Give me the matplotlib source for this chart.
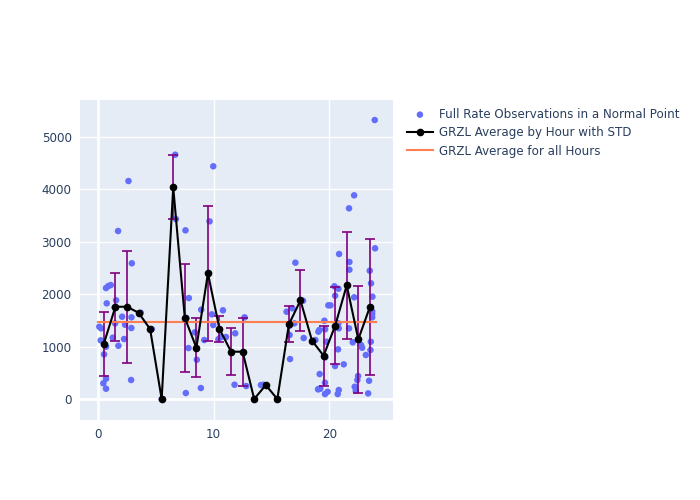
import numpy as np
import matplotlib
matplotlib.use("Agg")
import matplotlib.pyplot as plt
from matplotlib.ticker import MultipleLocator

# Hourly averages (plotted at hour + 0.5)
hours = np.arange(24) + 0.5
avg = [1055, 1761, 1761, 1647, 1336, 0, 4040, 1552, 980, 2398, 1336, 903,
       903, 0, 267, 0, 1425, 1883, 1113, 827, 1400, 2170, 1139, 1756]
std = [612, 650, 1070, np.nan, np.nan, np.nan, 610, 1030, 560, 1285, 255, 445,
       652, np.nan, np.nan, np.nan, 343, 585, np.nan, 570, 729, 1024, 1015, 1292]
overall_avg = 1463

obs_x = [0.11, 0.26, 0.23, 0.52, 0.46, 0.69, 0.69, 0.69, 0.69, 0.75, 0.89, 1.10,
         1.27, 1.44, 1.47, 1.56, 1.76, 1.73, 2.08, 2.25, 2.34, 2.63, 2.86, 2.88,
         2.89, 2.92, 3.69, 4.65, 5.5,
         6.67, 6.73, 7.56, 7.85, 7.65, 7.82, 7.59,
         8.92, 8.37, 8.54, 8.89,
         9.96, 9.64, 9.84, 9.18, 9.96,
         10.8, 10.6, 10.4,
         11.06, 11.86, 11.8,
         12.67, 12.81, 13.5, 14.08, 14.3, 15.5,
         16.3, 16.8, 16.56, 16.56, 16.6, 16.97,
         17.06, 17.72, 17.78, 18.79,
         19.13, 19.16, 19.02, 19.57, 19.63, 19.05, 19.74, 19.65, 19.62, 19.08,
         19.22, 19.62, 19.85, 19.91,
         20.09, 20.84, 20.43, 20.78, 20.5, 20.81, 20.78, 20.75, 20.49, 20.72, 20.81,
         21.73, 21.73, 21.7, 21.7, 21.24,
         22.14, 22.14, 22.02, 22.83, 22.74, 22.48, 22.42, 22.19, 22.28,
         23.95, 23.92, 23.49, 23.6, 23.72, 23.7, 23.7, 23.7, 23.15, 23.58, 23.55,
         23.43, 23.35]
obs_y = [1380, 1349, 1120, 853, 300, 197, 388, 998, 2118, 1826, 2156, 2175,
         1170, 1750, 1444, 1884, 1017, 3206, 1571, 1145, 1418, 4160, 363, 1355,
         1559, 2590, 1647, 1336, 0,
         4662, 3435, 3219, 1927, 1546, 973, 114,
         1705, 1273, 750, 210,
         4441, 3391, 1616, 1126, 1412,
         1693, 1180, 1140,
         1183, 1254, 273,
         1559, 248, 0, 267, 273, 0,
         1666, 1731, 1399, 1222, 763, 1444,
         2602, 1876, 1164, 1126,
         1317, 477, 185, 1494, 1330, 1285, 1094, 796, 311, 191,
         197, 95, 139, 1788,
         1788, 2767, 2151, 2105, 1971, 1349, 1444, 948, 630, 95, 172,
         2615, 2468, 3639, 1349, 662,
         3887, 1941, 1082, 979, 1030, 439, 363, 235, 158,
         2876, 5324, 2449, 2208, 1953, 1673, 1622, 1559, 840, 1094, 935,
         349, 108]

fig = plt.figure(figsize=(7, 5), dpi=100)
ax = fig.add_axes([80/700, 80/500, 313/700, 320/500])
ax.set_facecolor('#E5ECF6')
for s in ax.spines.values():
    s.set_visible(False)

ax.set_xlim(-1.56, 25.5)
ax.set_ylim(-400, 5706)
ax.xaxis.set_major_locator(MultipleLocator(10))
ax.yaxis.set_major_locator(MultipleLocator(1000))
ax.grid(True, color='white', linewidth=1)
ax.set_axisbelow(True)
ax.axhline(0, color='white', linewidth=2, zorder=0.5)
ax.axvline(0, color='white', linewidth=2, zorder=0.5)
ax.tick_params(length=0, labelsize=8.6, labelcolor='#2a3f5f', pad=6)

ax.scatter(obs_x, obs_y, s=22, color='#636efa', edgecolors='none', zorder=2,
           label='Full Rate Observations in a Normal Point')
ax.errorbar(hours, avg, yerr=std, fmt='none', ecolor='purple', elinewidth=1.2,
            capsize=3.5, capthick=1.2, zorder=3)
ax.plot(hours, avg, color='black', linewidth=1.5, marker='o', markersize=4.5,
        zorder=4, label='GRZL Average by Hour with STD')
ax.plot([0, 24], [overall_avg, overall_avg], color='#FF7F50', linewidth=1.5,
        zorder=3.5, label='GRZL Average for all Hours')

leg = fig.legend(loc='upper left', bbox_to_anchor=(402/700, 1 - 103/500),
                 frameon=False, fontsize=8.6, labelcolor='#2a3f5f',
                 handlelength=2.2, handletextpad=0.5, borderaxespad=0,
                 labelspacing=0.45)

fig.savefig('out.png', dpi=100)
